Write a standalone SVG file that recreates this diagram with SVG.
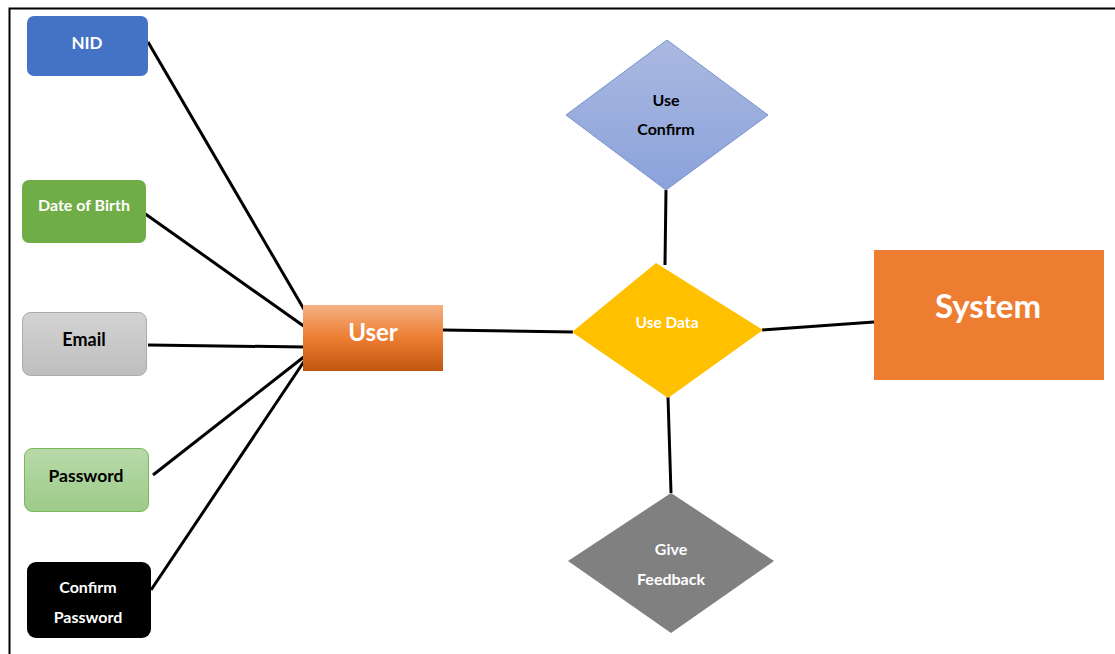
<svg xmlns="http://www.w3.org/2000/svg" width="1115" height="654" viewBox="0 0 1115 654">
  <defs>
    <linearGradient id="gUser" x1="0" y1="0" x2="0" y2="1">
      <stop offset="0" stop-color="#F4B183"/>
      <stop offset="0.5" stop-color="#ED7D31"/>
      <stop offset="1" stop-color="#C0560F"/>
    </linearGradient>
    <linearGradient id="gEmail" x1="0" y1="0" x2="0" y2="1">
      <stop offset="0" stop-color="#D3D3D3"/>
      <stop offset="1" stop-color="#BEBEBE"/>
    </linearGradient>
    <linearGradient id="gPass" x1="0" y1="0" x2="0" y2="1">
      <stop offset="0" stop-color="#B8DAA9"/>
      <stop offset="1" stop-color="#9DCB88"/>
    </linearGradient>
    <linearGradient id="gConfirm" x1="0" y1="0" x2="0" y2="1">
      <stop offset="0" stop-color="#AAB9E1"/>
      <stop offset="1" stop-color="#8BA2DA"/>
    </linearGradient>
  </defs>
  <style>
    text { font-family: Lato, "Open Sans", "Liberation Sans", sans-serif; font-weight: bold; text-anchor: middle; }
    .w { fill: #FFFFFF; }
    .k { fill: #000000; }
    .link { stroke: #000000; stroke-width: 3; fill: none; stroke-linecap: butt; }
  </style>
  <rect x="0" y="0" width="1115" height="654" fill="#FFFFFF"/>
  <!-- frame -->
  <path d="M9.5 654 V8.5 H1115" fill="none" stroke="#000000" stroke-width="2"/>

  <g id="connectors">
    <line class="link" x1="148" y1="42" x2="305" y2="311"/>
    <line class="link" x1="144" y1="213" x2="305" y2="327"/>
    <line class="link" x1="148" y1="345" x2="305" y2="347"/>
    <line class="link" x1="153" y1="475" x2="305" y2="356"/>
    <line class="link" x1="151" y1="590" x2="305" y2="360"/>
    <line class="link" x1="443" y1="330" x2="573" y2="332"/>
    <line class="link" x1="762" y1="330" x2="874" y2="322"/>
    <line class="link" x1="666" y1="190" x2="665" y2="265"/>
    <line class="link" x1="668" y1="397" x2="671" y2="493"/>
  </g>

  <g id="nid">
    <rect x="27" y="16" width="121" height="60" rx="7" fill="#4472C4"/>
    <text class="w" x="87" y="49" font-size="17">NID</text>
  </g>
  <g id="dob">
    <rect x="22" y="180" width="124" height="63" rx="7" fill="#70AD47"/>
    <text class="w" x="84" y="211" font-size="16">Date of Birth</text>
  </g>
  <g id="email">
    <rect x="22.5" y="312.5" width="124" height="63" rx="8" fill="url(#gEmail)" stroke="#ABABAB" stroke-width="1"/>
    <text class="k" x="84" y="346" font-size="18">Email</text>
  </g>
  <g id="password">
    <rect x="24.5" y="448.5" width="124" height="63" rx="8" fill="url(#gPass)" stroke="#78B858" stroke-width="1"/>
    <text class="k" x="86" y="482" font-size="17.5">Password</text>
  </g>
  <g id="confirm-password">
    <rect x="27" y="562" width="124" height="76" rx="9" fill="#000000"/>
    <text class="w" x="88" y="593" font-size="16">Confirm</text>
    <text class="w" x="88" y="623" font-size="16">Password</text>
  </g>
  <g id="user">
    <rect x="303" y="305" width="140" height="66" fill="url(#gUser)"/>
    <text class="w" x="373" y="341" font-size="24">User</text>
  </g>
  <g id="use-data">
    <polygon points="656,263 763,330 668,398 572,332" fill="#FFC000"/>
    <text class="w" x="667" y="328" font-size="15.5">Use Data</text>
  </g>
  <g id="use-confirm">
    <polygon points="667,40 768,115 666,190 566,115" fill="url(#gConfirm)" stroke="#7892CF" stroke-width="1"/>
    <text class="k" x="666" y="106" font-size="16">Use</text>
    <text class="k" x="666" y="135" font-size="16">Confirm</text>
  </g>
  <g id="give-feedback">
    <polygon points="671,493 774,561 671,633 568,561" fill="#808080"/>
    <text class="w" x="671" y="555" font-size="16">Give</text>
    <text class="w" x="671" y="585" font-size="16">Feedback</text>
  </g>
  <g id="system">
    <rect x="874" y="250" width="230" height="130" fill="#ED7D31"/>
    <text class="w" x="988" y="318" font-size="33">System</text>
  </g>
</svg>
